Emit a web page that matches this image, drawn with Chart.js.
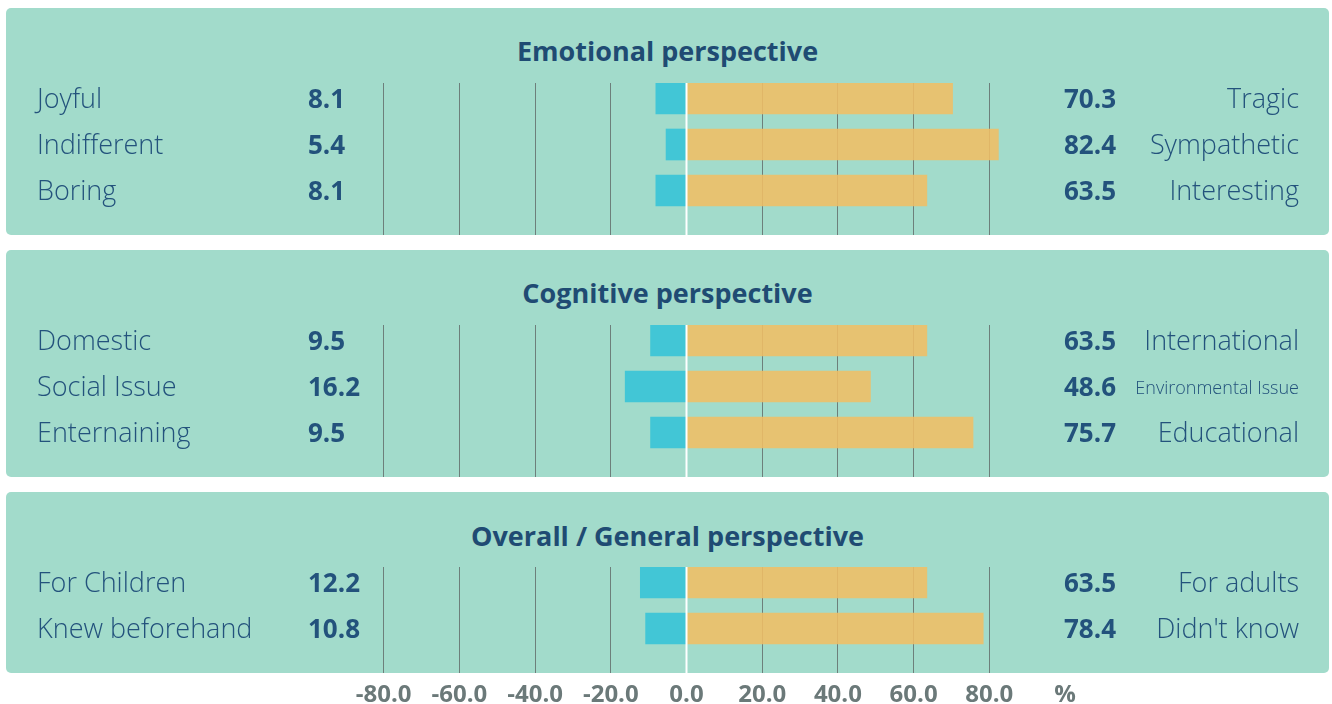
<!DOCTYPE html>
<html>
<head>
<meta charset="utf-8">
<title>Perspectives</title>
<script src="https://cdn.jsdelivr.net/npm/chart.js@4.4.1/dist/chart.umd.min.js"></script>
<style>
    body { margin: 0; background: #fff; font-family: 'Open Sans', sans-serif; }
    #page { position: relative; width: 1332px; height: 704px; overflow: hidden; }
    .panel { position: absolute; left: 6px; width: 1323px; background: #a2dbcb; border-radius: 5px; }
    .panel h2 { position: absolute; left: 0; right: 0; top: 27px; margin: 0; text-align: center;
        font-size: 27px; line-height: 32px; font-weight: 700; color: #1f4b73; }
    .chart-box { position: absolute; left: 0; width: 1332px; }
</style>
</head>
<body>
<div id="page">
    <div class="panel" style="top:8px;height:227px"><h2>Emotional perspective</h2></div>
    <div class="panel" style="top:250px;height:227px"><h2>Cognitive perspective</h2></div>
    <div class="panel" style="top:492px;height:181px"><h2 style="top:28px">Overall / General perspective</h2></div>

    <div class="chart-box" style="top:83px;height:152px"><canvas id="emotional"></canvas></div>
    <div class="chart-box" style="top:325px;height:152px"><canvas id="cognitive"></canvas></div>
    <div class="chart-box" style="top:567px;height:137px"><canvas id="general"></canvas></div>
</div>

<script>
// Emotional perspective
const emotionalLeft = ['Joyful', 'Indifferent', 'Boring'];
const emotionalRight = ['Tragic', 'Sympathetic', 'Interesting'];
const emotionalNeg = [8.1, 5.4, 8.1];
const emotionalPos = [70.3, 82.4, 63.5];

// Cognitive perspective
const cognitiveLeft = ['Domestic', 'Social Issue', 'Enternaining'];
const cognitiveRight = ['International', 'Environmental Issue', 'Educational'];
const cognitiveNeg = [9.5, 16.2, 9.5];
const cognitivePos = [63.5, 48.6, 75.7];

// Overall / General perspective
const generalLeft = ['For Children', 'Knew beforehand'];
const generalRight = ['For adults', "Didn't know"];
const generalNeg = [12.2, 10.8];
const generalPos = [63.5, 78.4];

// x axis ticks, -100 to 100 by 20
const tickLabels = ['', '-80.0', '-60.0', '-40.0', '-20.0', '0.0', '20.0', '40.0', '60.0', '80.0', '%'];

const TEXT_COLOR = '#23527c';
const ROW = 46;

/**
 * Draws the label and value columns on both sides, and the white zero line
 */
const sideText = {
    id: 'sideText',
    afterDatasetsDraw(chart, args, opts) {
        const { ctx, chartArea, scales: { x, y } } = chart;
        ctx.save();

        // zero line
        const x0 = x.getPixelForValue(0);
        ctx.strokeStyle = '#ffffff';
        ctx.lineWidth = 2;
        ctx.beginPath();
        ctx.moveTo(x0, chartArea.top);
        ctx.lineTo(x0, chartArea.bottom);
        ctx.stroke();

        ctx.fillStyle = TEXT_COLOR;
        ctx.textBaseline = 'middle';
        opts.left.forEach((label, i) => {
            const py = y.getPixelForValue(i) + 2;

            ctx.textAlign = 'left';
            ctx.font = '300 27px "Open Sans"';
            ctx.fillText(label, 37, py);

            ctx.font = '700 26px "Open Sans"';
            ctx.fillText(opts.neg[i].toFixed(1), chartArea.left, py);
            ctx.fillText(opts.pos[i].toFixed(1), chartArea.right - 1, py);

            // right label, shrink it when it does not fit
            const maxWidth = 166;
            let size = 27;
            ctx.font = '300 ' + size + 'px "Open Sans"';
            while (ctx.measureText(opts.right[i]).width > maxWidth && size > 8) {
                size--;
                ctx.font = '300 ' + size + 'px "Open Sans"';
            }
            ctx.textAlign = 'right';
            ctx.fillText(opts.right[i], 1299, py);
        });
        ctx.restore();
    }
};

function makeChart(id, leftLabels, neg, pos, rightLabels, showAxis) {
    const plotHeight = showAxis ? 106 : 152;
    const yMin = -15.5 / ROW;

    return new Chart(document.getElementById(id), {
        type: 'bar',
        data: {
            datasets: [{
                data: neg.map((v, i) => ({ x: -v, y: i })),
                backgroundColor: '#42c6d6',
                barThickness: 31,
                grouped: false
            }, {
                data: pos.map((v, i) => ({ x: v, y: i })),
                backgroundColor: 'rgba(240, 190, 100, 0.88)',
                barThickness: 31,
                grouped: false
            }]
        },
        options: {
            indexAxis: 'y',
            responsive: true,
            maintainAspectRatio: false,
            animation: false,
            layout: { padding: { left: 308, right: 267, top: 0, bottom: 0 } },
            scales: {
                x: {
                    type: 'linear',
                    min: -100,
                    max: 100,
                    afterFit(scale) {
                        scale.height = showAxis ? 31 : 0;
                    },
                    border: { display: false },
                    grid: {
                        drawTicks: false,
                        color: ctx => (ctx.tick.value === 0 || Math.abs(ctx.tick.value) === 100) ? 'rgba(0,0,0,0)' : '#6d7f7b',
                        lineWidth: 1
                    },
                    ticks: {
                        display: showAxis,
                        stepSize: 20,
                        autoSkip: false,
                        maxRotation: 0,
                        padding: 8,
                        color: '#6b7979',
                        font: { family: 'Open Sans', size: 24, weight: '700' },
                        callback: (value, index) => tickLabels[index]
                    }
                },
                y: {
                    type: 'linear',
                    display: false,
                    reverse: true,
                    offset: false,
                    min: yMin,
                    max: yMin + plotHeight / ROW
                }
            },
            plugins: {
                legend: { display: false },
                tooltip: { enabled: false },
                sideText: { left: leftLabels, right: rightLabels, neg: neg, pos: pos }
            }
        },
        plugins: [sideText]
    });
}

document.addEventListener('DOMContentLoaded', function() {
    makeChart('emotional', emotionalLeft, emotionalNeg, emotionalPos, emotionalRight, false);
    makeChart('cognitive', cognitiveLeft, cognitiveNeg, cognitivePos, cognitiveRight, false);
    makeChart('general', generalLeft, generalNeg, generalPos, generalRight, true);
});
</script>
</body>
</html>
